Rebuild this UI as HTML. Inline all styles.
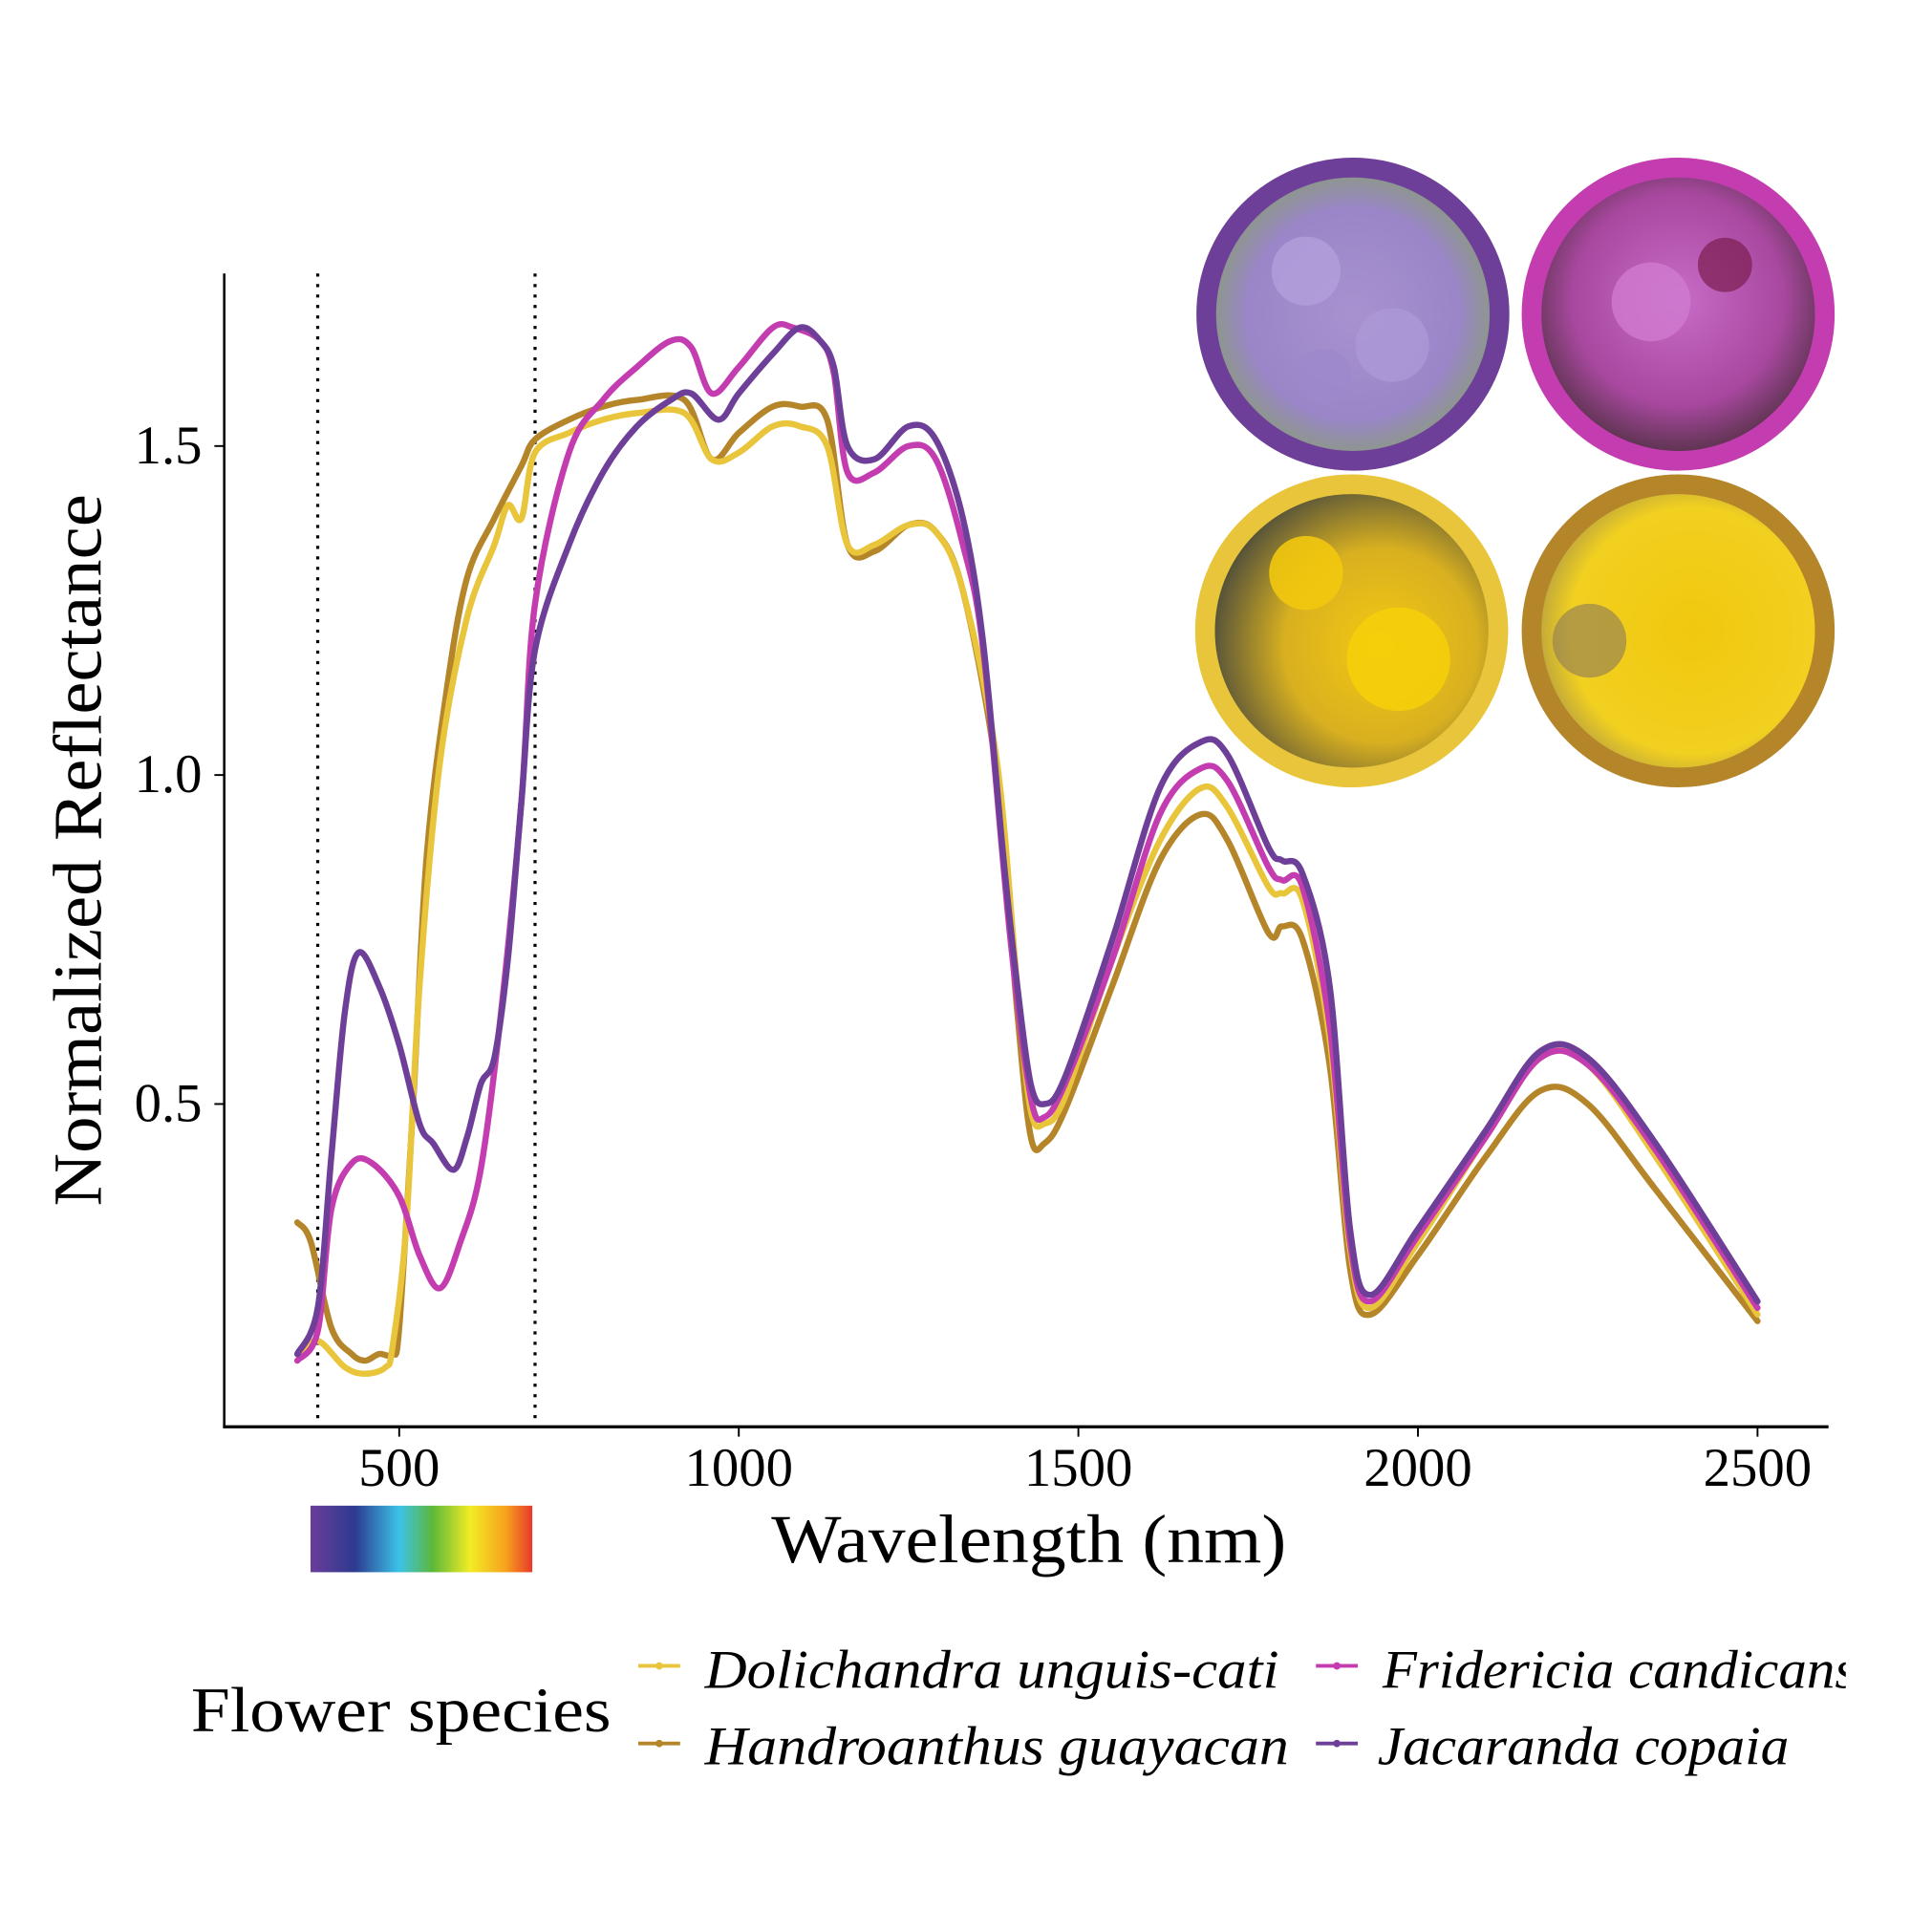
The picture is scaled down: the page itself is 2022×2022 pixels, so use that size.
<!DOCTYPE html>
<html><head><meta charset="utf-8"><style>
html,body{margin:0;padding:0;background:#fff;}
svg{display:block;}
text{font-family:"Liberation Serif",serif;fill:#000;}
</style></head><body>
<svg id="chart" width="2022" height="2022" viewBox="0 0 1568 1568" xmlns="http://www.w3.org/2000/svg">
<defs>
<linearGradient id="spec" x1="0" x2="1" y1="0" y2="0">
<stop offset="0" stop-color="#6a3d9a"/><stop offset="0.2" stop-color="#2d3a8f"/><stop offset="0.4" stop-color="#3bc3e8"/><stop offset="0.55" stop-color="#5cb83a"/><stop offset="0.72" stop-color="#f2ec25"/><stop offset="0.88" stop-color="#f7a21d"/><stop offset="1" stop-color="#e8392a"/>
</linearGradient>
<radialGradient id="gJ" cx="0.5" cy="0.5" r="0.6"><stop offset="0" stop-color="#a892d0"/><stop offset="0.6" stop-color="#9a86c8"/><stop offset="1" stop-color="#7fa84a"/></radialGradient>
<radialGradient id="gF" cx="0.5" cy="0.45" r="0.6"><stop offset="0" stop-color="#c86cc8"/><stop offset="0.6" stop-color="#a8489f"/><stop offset="1" stop-color="#3a2a2a"/></radialGradient>
<radialGradient id="gD" cx="0.6" cy="0.55" r="0.6"><stop offset="0" stop-color="#f2c812"/><stop offset="0.55" stop-color="#d8b020"/><stop offset="1" stop-color="#4a4a3c"/></radialGradient>
<radialGradient id="gH" cx="0.55" cy="0.5" r="0.6"><stop offset="0" stop-color="#f0c80e"/><stop offset="0.7" stop-color="#f2d020"/><stop offset="1" stop-color="#9a8a50"/></radialGradient>
<clipPath id="plotclip"><rect x="182" y="200" width="1302" height="958"/></clipPath>
</defs>

<g>
<circle cx="1098" cy="255" r="119" fill="url(#gJ)" stroke="#6e3f98" stroke-width="16"/>
<circle cx="1060" cy="220" r="28" fill="#b2a0dc" opacity="0.8"/><circle cx="1130" cy="280" r="30" fill="#ab98d6" opacity="0.8"/><circle cx="1075" cy="305" r="22" fill="#9c88cc" opacity="0.8"/>
<circle cx="1362" cy="255" r="119" fill="url(#gF)" stroke="#c43db0" stroke-width="16"/>
<circle cx="1340" cy="245" r="32" fill="#d07ad0" opacity="0.8"/><circle cx="1400" cy="215" r="22" fill="#7a1e4e" opacity="0.7"/>
<circle cx="1097" cy="512" r="119" fill="url(#gD)" stroke="#e8c53a" stroke-width="16"/>
<circle cx="1135" cy="535" r="42" fill="#f5cf0a" opacity="0.9"/><circle cx="1060" cy="465" r="30" fill="#f2c80e" opacity="0.9"/>
<circle cx="1362" cy="512" r="119" fill="url(#gH)" stroke="#b5852a" stroke-width="16"/>
<circle cx="1290" cy="520" r="30" fill="#8c7a5a" opacity="0.6"/>
</g>

<line x1="182" y1="222" x2="182" y2="1159" stroke="#000" stroke-width="2"/>
<line x1="181" y1="1158" x2="1484" y2="1158" stroke="#000" stroke-width="2.5"/>
<g id="ticks"></g>
<g id="lines" clip-path="url(#plotclip)"></g>

<text x="835" y="1268" font-size="56" text-anchor="middle" textLength="418" lengthAdjust="spacingAndGlyphs">Wavelength (nm)</text>
<text transform="translate(82,690) rotate(-90)" font-size="56" text-anchor="middle" textLength="578" lengthAdjust="spacingAndGlyphs">Normalized Reflectance</text>
<rect x="252" y="1222" width="180" height="54" fill="url(#spec)"/>

<g>
<text x="155" y="1405" font-size="52" textLength="341" lengthAdjust="spacingAndGlyphs">Flower species</text>
<g>
<line x1="518" y1="1352" x2="552" y2="1352" stroke="#e8c53a" stroke-width="3"/><circle cx="535" cy="1352" r="3" fill="#e8c53a"/>
<text x="572" y="1370" font-size="44" font-style="italic" textLength="466" lengthAdjust="spacingAndGlyphs">Dolichandra unguis-cati</text></g>
<g>
<line x1="518" y1="1415" x2="552" y2="1415" stroke="#b5852a" stroke-width="3"/><circle cx="535" cy="1415" r="3" fill="#b5852a"/>
<text x="572" y="1432" font-size="44" font-style="italic" textLength="474" lengthAdjust="spacingAndGlyphs">Handroanthus guayacan</text></g>
<g>
<line x1="1068" y1="1352" x2="1102" y2="1352" stroke="#c43db0" stroke-width="3"/><circle cx="1085" cy="1352" r="3" fill="#c43db0"/>
<text x="1122" y="1370" font-size="44" font-style="italic" textLength="385" lengthAdjust="spacingAndGlyphs">Fridericia candicans</text></g>
<g>
<line x1="1068" y1="1415" x2="1102" y2="1415" stroke="#6e3f98" stroke-width="3"/><circle cx="1085" cy="1415" r="3" fill="#6e3f98"/>
<text x="1118" y="1432" font-size="44" font-style="italic" textLength="334" lengthAdjust="spacingAndGlyphs">Jacaranda copaia</text></g>
</g>
<rect x="1498" y="1320" width="70" height="70" fill="#fff"/>
</svg>
<script>
const xTicks = [500, 1000, 1500, 2000, 2500];
const yTicks = [0.5, 1.0, 1.5];
const yTickLabels = ["0.5", "1.0", "1.5"];
const refLines = [380, 700];
const seriesNames = ["Handroanthus guayacan", "Dolichandra unguis-cati", "Fridericia candicans", "Jacaranda copaia"];
const seriesColors = ["#b5852a", "#e8c53a", "#c43db0", "#6e3f98"];
const wlHan = [350,370,400,430,450,470,490,500,520,540,570,600,640,680,700,750,800,850,920,960,1000,1050,1090,1130,1160,1200,1250,1290,1330,1380,1410,1430,1450,1480,1550,1620,1680,1720,1780,1800,1830,1870,1900,1930,2000,2100,2180,2250,2350,2500];
const valHan = [0.32,0.29,0.16,0.12,0.11,0.12,0.12,0.16,0.49,0.87,1.13,1.30,1.39,1.47,1.51,1.54,1.56,1.57,1.57,1.48,1.52,1.56,1.56,1.54,1.35,1.34,1.38,1.37,1.28,1.00,0.64,0.45,0.44,0.49,0.68,0.87,0.94,0.90,0.76,0.77,0.75,0.56,0.25,0.18,0.27,0.42,0.52,0.50,0.37,0.17];
const wlDol = [350,380,420,450,480,490,510,530,560,600,640,660,680,700,750,800,850,920,960,1000,1050,1090,1130,1160,1200,1250,1290,1330,1380,1410,1430,1450,1480,1550,1620,1680,1720,1780,1800,1830,1870,1900,1930,2000,2100,2180,2250,2350,2500];
const valDol = [0.12,0.14,0.10,0.09,0.10,0.13,0.31,0.68,1.02,1.24,1.35,1.41,1.39,1.49,1.52,1.54,1.55,1.55,1.48,1.49,1.53,1.53,1.50,1.35,1.35,1.38,1.37,1.28,1.02,0.68,0.49,0.47,0.51,0.72,0.90,0.98,0.95,0.83,0.82,0.81,0.60,0.28,0.19,0.29,0.45,0.57,0.56,0.42,0.18];
const wlFri = [350,380,400,430,460,500,530,560,590,620,650,680,700,750,800,850,900,930,960,1000,1050,1080,1120,1140,1160,1200,1250,1290,1330,1360,1400,1430,1450,1480,1550,1620,1680,1720,1780,1800,1830,1870,1900,1930,2000,2100,2180,2250,2350,2500];
const valFri = [0.11,0.155,0.34,0.41,0.41,0.36,0.27,0.22,0.29,0.40,0.64,0.96,1.26,1.49,1.57,1.62,1.66,1.65,1.58,1.62,1.68,1.68,1.66,1.61,1.46,1.46,1.50,1.48,1.35,1.19,0.75,0.51,0.48,0.53,0.72,0.94,1.01,0.99,0.86,0.84,0.83,0.62,0.29,0.20,0.30,0.45,0.57,0.56,0.43,0.19];
const wlJac = [350,380,400,420,440,470,500,530,550,580,600,620,640,660,680,700,750,800,850,900,930,970,1000,1050,1090,1120,1140,1160,1200,1250,1290,1330,1360,1390,1410,1430,1450,1480,1550,1620,1680,1720,1780,1800,1830,1870,1900,1930,2000,2100,2180,2250,2350,2500];
const valJac = [0.12,0.19,0.42,0.64,0.73,0.68,0.59,0.47,0.44,0.40,0.45,0.53,0.57,0.72,0.96,1.19,1.35,1.46,1.53,1.57,1.58,1.54,1.58,1.64,1.68,1.66,1.62,1.50,1.48,1.53,1.51,1.39,1.20,0.87,0.68,0.53,0.50,0.54,0.75,0.98,1.05,1.03,0.89,0.87,0.85,0.68,0.31,0.21,0.31,0.46,0.58,0.57,0.44,0.20];

const NS = "http://www.w3.org/2000/svg";
function xS(w){ return 324 + (w - 500) * 0.5512; }
function yS(v){ return 629 - (v - 1) * 534; }

const ticks = document.getElementById('ticks');
xTicks.forEach(t => {
  const l = document.createElementNS(NS,'line');
  
  
  l.setAttribute('x1',xS(t)); l.setAttribute('x2',xS(t)); l.setAttribute('y1',1158); l.setAttribute('y2',1166);
  l.setAttribute('stroke','#000'); l.setAttribute('stroke-width','1.5');
  ticks.appendChild(l);
  const tx = document.createElementNS(NS,'text');
  
  
  tx.setAttribute('x',xS(t)); tx.setAttribute('y',1206); tx.setAttribute('font-size','44'); tx.setAttribute('text-anchor','middle');
  tx.textContent = String(t);
  ticks.appendChild(tx);
});
yTicks.forEach((t,i) => {
  const l = document.createElementNS(NS,'line');
  
  
  l.setAttribute('x1',174); l.setAttribute('x2',182); l.setAttribute('y1',yS(t)); l.setAttribute('y2',yS(t));
  l.setAttribute('stroke','#000'); l.setAttribute('stroke-width','1.5');
  ticks.appendChild(l);
  const tx = document.createElementNS(NS,'text');
  
  
  tx.setAttribute('x',164); tx.setAttribute('y',yS(t)+14); tx.setAttribute('font-size','44'); tx.setAttribute('text-anchor','end');
  tx.textContent = yTickLabels[i];
  ticks.appendChild(tx);
});
refLines.forEach(w => {
  const l = document.createElementNS(NS,'line');
  
  
  l.setAttribute('x1',xS(w)); l.setAttribute('x2',xS(w)); l.setAttribute('y1',222); l.setAttribute('y2',1158);
  l.setAttribute('stroke','#000'); l.setAttribute('stroke-width','2.5'); l.setAttribute('stroke-dasharray','2.5 6');
  ticks.appendChild(l);
});

function smoothPath(pts){
  let d = 'M' + pts[0][0].toFixed(1) + ',' + pts[0][1].toFixed(1);
  for (let i = 0; i < pts.length - 1; i++) {
    const p0 = pts[Math.max(0,i-1)], p1 = pts[i], p2 = pts[i+1], p3 = pts[Math.min(pts.length-1,i+2)];
    const c1x = p1[0] + (p2[0]-p0[0])/6, c1y = p1[1] + (p2[1]-p0[1])/6;
    const c2x = p2[0] - (p3[0]-p1[0])/6, c2y = p2[1] - (p3[1]-p1[1])/6;
    d += ' C' + c1x.toFixed(1)+','+c1y.toFixed(1)+' '+c2x.toFixed(1)+','+c2y.toFixed(1)+' '+p2[0].toFixed(1)+','+p2[1].toFixed(1);
  }
  return d;
}
const wls = [wlHan, wlDol, wlFri, wlJac];
const vals = [valHan, valDol, valFri, valJac];
const slugs = ['handroanthus','dolichandra','fridericia','jacaranda'];
const linesG = document.getElementById('lines');
wls.forEach((wl, s) => {
  const pts = wl.map((w, i) => [xS(w), yS(vals[s][i])]);
  const p = document.createElementNS(NS,'path');
  
  
  p.setAttribute('d', smoothPath(pts));
  p.setAttribute('fill','none'); p.setAttribute('stroke', seriesColors[s]);
  p.setAttribute('stroke-width','5'); p.setAttribute('stroke-linejoin','round'); p.setAttribute('stroke-linecap','round');
  linesG.appendChild(p);
});
</script>
</body></html>
